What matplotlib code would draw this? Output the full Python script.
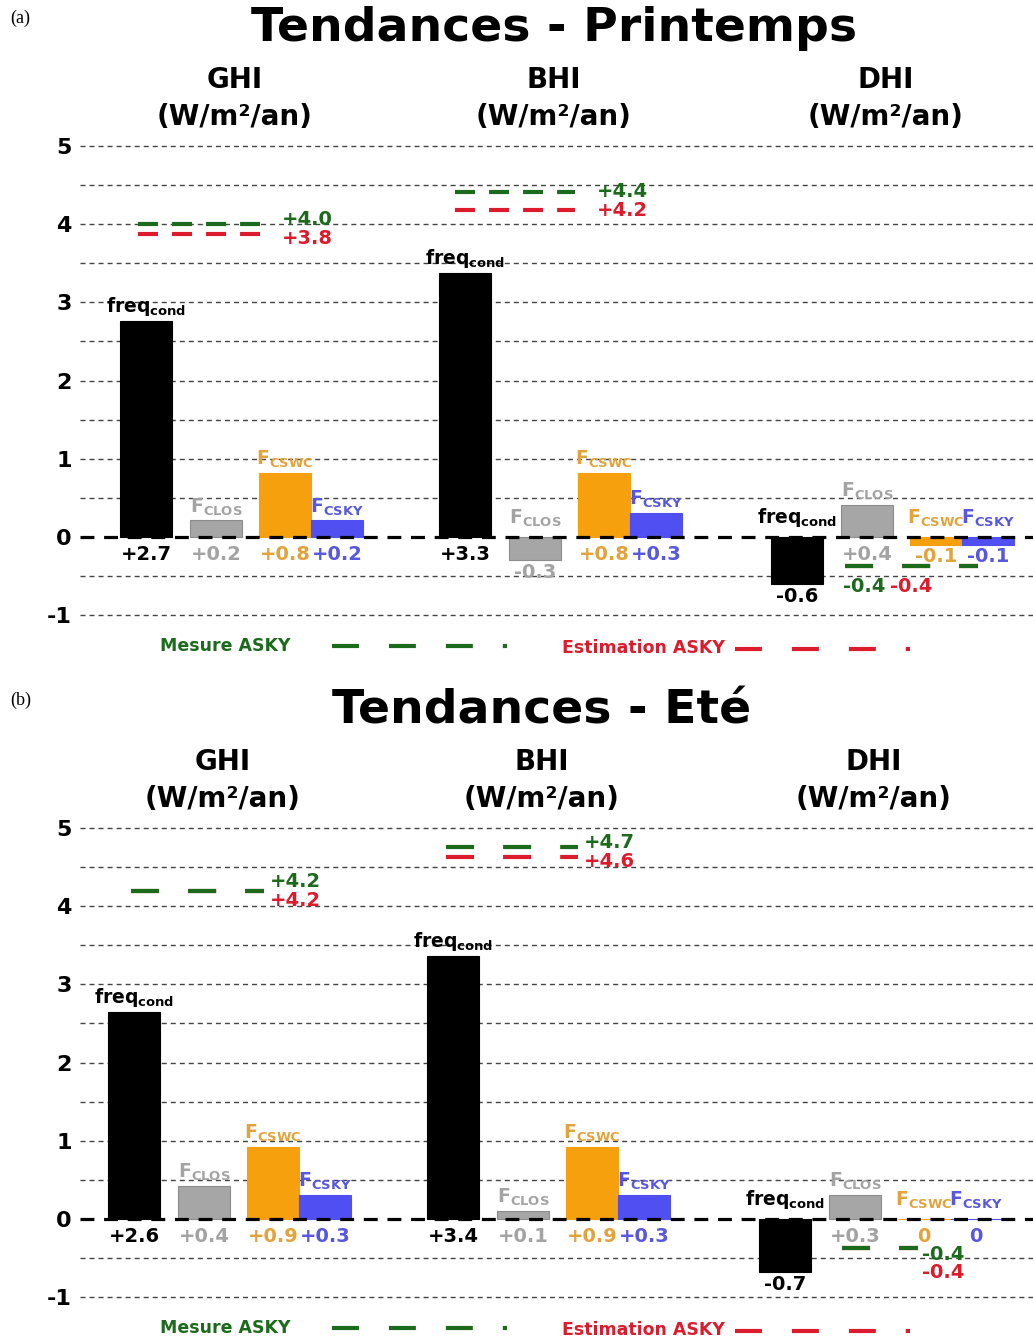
import matplotlib.pyplot as plt

plt.rcParams['font.family'] = ['DejaVu Sans']
plt.rcParams['font.weight'] = 'bold'
plt.rcParams['mathtext.fontset'] = 'dejavusans'
plt.rcParams['mathtext.default'] = 'bf'
plt.rcParams['lines.scale_dashes'] = False

# ---- data ----
groups = ['GHI', 'BHI', 'DHI']
unit = '(W/m²/an)'
titles = ['Tendances - Printemps', 'Tendances - Eté']
tags = ['(a)', '(b)']
bar_names = [r'freq$_{\mathbf{cond}}$', r'F$_{\mathbf{CLOS}}$',
             r'F$_{\mathbf{CSWC}}$', r'F$_{\mathbf{CSKY}}$']

# printemps : freq_cond, F_CLOS, F_CSWC, F_CSKY  (GHI, BHI, DHI)
spring_freq = [2.76, 3.38, -0.60]
spring_clos = [0.21, -0.30, 0.41]
spring_cswc = [0.82, 0.82, -0.10]
spring_csky = [0.21, 0.31, -0.10]
spring_lbl = [['+2.7', '+0.2', '+0.8', '+0.2'],
              ['+3.3', '-0.3', '+0.8', '+0.3'],
              ['-0.6', '+0.4', '-0.1', '-0.1']]
spring_mesure = [4.00, 4.41, -0.37]
spring_estim = [3.87, 4.18, -0.37]
spring_mesure_lbl = ['+4.0', '+4.4', '-0.4']
spring_estim_lbl = ['+3.8', '+4.2', '-0.4']

# ete
summer_freq = [2.65, 3.36, -0.68]
summer_clos = [0.42, 0.10, 0.31]
summer_cswc = [0.92, 0.92, 0.0]
summer_csky = [0.31, 0.31, 0.0]
summer_lbl = [['+2.6', '+0.4', '+0.9', '+0.3'],
              ['+3.4', '+0.1', '+0.9', '+0.3'],
              ['-0.7', '+0.3', '0', '0']]
summer_mesure = [4.19, 4.76, -0.37]
summer_estim = [4.19, 4.63, -0.37]
summer_mesure_lbl = ['+4.2', '+4.7', '-0.4']
summer_estim_lbl = ['+4.2', '+4.6', '-0.4']

# ---- style / layout ----
bar_colors = ['black', '#a6a6a6', '#f5a00c', '#4f4ff2']
txt_colors = ['black', '#a3a3a3', '#e3a33a', '#5757e0']
green = '#1c6b1c'
red = '#dc1c2c'

W, H = 1033, 1340
fig = plt.figure(figsize=(W / 100, H / 100), dpi=100)

group_x = [146, 465, 797]          # centre de la barre freq_cond
offs = [0, 70, 139, 191]
bw = 52
px_unit = 78.17

panels = [
    dict(freq=spring_freq, clos=spring_clos, cswc=spring_cswc, csky=spring_csky,
         lbl=spring_lbl, mes=spring_mesure, est=spring_estim,
         mes_lbl=spring_mesure_lbl, est_lbl=spring_estim_lbl,
         y5=146, shift=0,
         spans=[(138, 260), (455, 575), (845, 978)],
         dash_short=True, lbl_gap=22,
         dhi_lbl=[(864, -0.64), (911, -0.64)]),
    dict(freq=summer_freq, clos=summer_clos, cswc=summer_cswc, csky=summer_csky,
         lbl=summer_lbl, mes=summer_mesure, est=summer_estim,
         mes_lbl=summer_mesure_lbl, est_lbl=summer_estim_lbl,
         y5=828, shift=12,
         spans=[(143, 276), (458, 590), (854, 930)],
         dash_short=False, lbl_gap=6,
         dhi_lbl=[(955, -0.46), (955, -0.68)]),
]

ymin, ymax = -1.05, 5.05
for k, p in enumerate(panels):
    top_px = p['y5'] - (ymax - 5) * px_unit
    bot_px = p['y5'] + (5 - ymin) * px_unit
    ax = fig.add_axes([80 / W, 1 - bot_px / H, (W - 80) / W, (bot_px - top_px) / H])
    ax.set_xlim(80 + p['shift'], W + p['shift'])
    ax.set_ylim(ymin, ymax)
    for s in ax.spines.values():
        s.set_visible(False)
    ax.set_xticks([])
    ax.set_yticks([-1, 0, 1, 2, 3, 4, 5])
    ax.set_yticklabels(['-1', '0', '1', '2', '3', '4', '5'], fontsize=16, fontweight='bold')
    ax.tick_params(axis='y', length=0, pad=6)

    # grille
    for g in [-1, -0.5, 0.5, 1, 1.5, 2, 2.5, 3, 3.5, 4, 4.5, 5]:
        ax.axhline(g, color='#444444', lw=1.0, dashes=(3.6, 2.9), zorder=1)
    ax.axhline(0, color='black', lw=2.3, dashes=(10, 7), zorder=5)

    series = [p['freq'], p['clos'], p['cswc'], p['csky']]
    for gi in range(3):
        gx = group_x[gi]
        for j in range(4):
            v = series[j][gi]
            x = gx + offs[j]
            ax.bar(x, v, width=bw, color=bar_colors[j],
                   edgecolor='#8c8c8c' if j == 1 else bar_colors[j],
                   lw=0.8, zorder=3)
            # nom au-dessus
            up = max(v, 0)
            dy = 2 if v > 0 else 6
            ax.annotate(bar_names[j], (x, up), xytext=(0, dy), textcoords='offset points',
                        ha='center', va='bottom', fontsize=13.5, fontweight='bold',
                        color=txt_colors[j], zorder=6)
            # valeur en dessous
            lo = min(v, 0)
            dy = -6 if v >= 0 else -2
            ax.annotate(p['lbl'][gi][j], (x, lo), xytext=(0, dy), textcoords='offset points',
                        ha='center', va='top', fontsize=14, fontweight='bold',
                        color=txt_colors[j], zorder=6)

        # tendances mesure / estimation ASKY
        x0, x1 = p['spans'][gi]
        dash = (14.4, 10.1) if (p['dash_short'] and gi < 2) else (20.2, 20.9)
        ax.plot([x0, x1], [p['est'][gi]] * 2, color=red, lw=3, dashes=dash, zorder=4,
                solid_capstyle='butt', dash_capstyle='butt')
        ax.plot([x0, x1], [p['mes'][gi]] * 2, color=green, lw=3, dashes=dash, zorder=4,
                solid_capstyle='butt', dash_capstyle='butt')
        if gi < 2:
            ym = (p['mes'][gi] + p['est'][gi]) / 2
            ax.text(x1 + p['lbl_gap'], ym + 0.12, p['mes_lbl'][gi], color=green,
                    fontsize=14, fontweight='bold', ha='left', va='center', zorder=6)
            ax.text(x1 + p['lbl_gap'], ym - 0.12, p['est_lbl'][gi], color=red,
                    fontsize=14, fontweight='bold', ha='left', va='center', zorder=6)
        else:
            (gx_, gy_), (rx_, ry_) = p['dhi_lbl']
            ax.text(gx_, gy_, p['mes_lbl'][gi], color=green, fontsize=14,
                    fontweight='bold', ha='center', va='center', zorder=6)
            ax.text(rx_, ry_, p['est_lbl'][gi], color=red, fontsize=14,
                    fontweight='bold', ha='center', va='center', zorder=6)

        # entetes de colonnes
        ax.text(gx + 89, 5.845, groups[gi], ha='center', va='center',
                fontsize=20, fontweight='bold', clip_on=False)
        ax.text(gx + 89, 5.37, unit, ha='center', va='center',
                fontsize=20, fontweight='bold', clip_on=False)

    ax.text(group_x[0] + 408, 6.50, titles[k], ha='center', va='center',
            fontsize=34, fontweight='bold', clip_on=False)

    # legende
    ly = 1 - (p['y5'] + 6.40 * px_unit) / H
    fig.text(290 / W, ly, 'Mesure ASKY', color=green, fontsize=12.5,
             fontweight='bold', ha='right', va='center')
    fig.add_artist(plt.Line2D([332 / W, 507 / W], [ly, ly], color=green, lw=3,
                              dashes=(19.4, 21.6), transform=fig.transFigure))
    ly2 = ly - 2 / H
    fig.text(562 / W, ly2, 'Estimation ASKY', color=red, fontsize=12.5,
             fontweight='bold', ha='left', va='center')
    fig.add_artist(plt.Line2D([735 / W, 910 / W], [ly2 - 1 / H, ly2 - 1 / H], color=red, lw=3,
                              dashes=(19.4, 21.6), transform=fig.transFigure))

    fig.text(10 / W, 1 - (18 + (p['y5'] - 146)) / H, tags[k], family='Liberation Serif',
             fontweight='normal', fontsize=13, ha='left', va='center')

fig.savefig('out.png', dpi=100)
